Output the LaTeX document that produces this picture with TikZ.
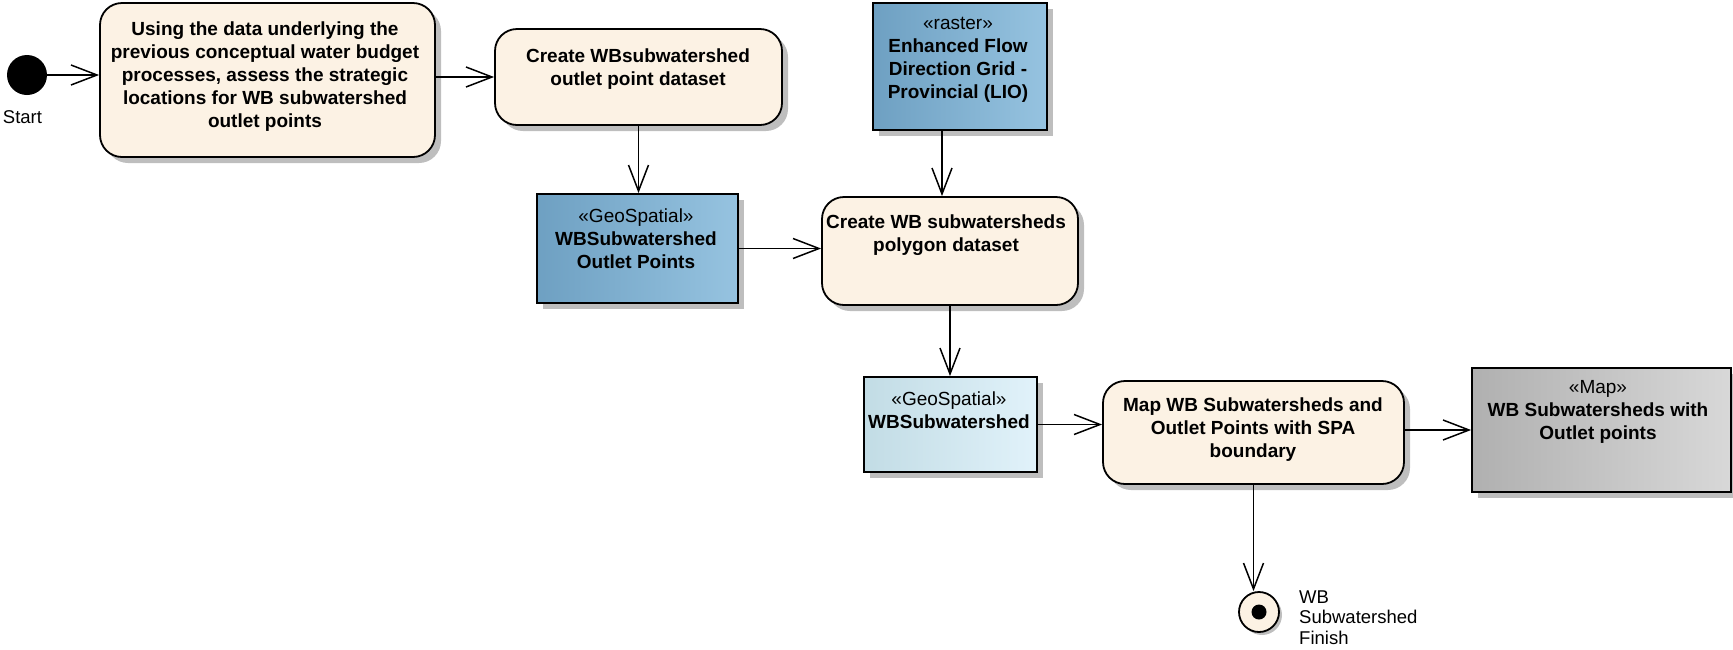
\documentclass[tikz,border=0pt]{standalone}
\usepackage{fontspec}
\setmainfont{Liberation Sans}
\usetikzlibrary{arrows.meta,shadows,calc}

\definecolor{actfill}{RGB}{252,242,228}
\definecolor{blueL}{RGB}{110,160,194}
\definecolor{blueM}{RGB}{140,187,216}
\definecolor{blueR}{RGB}{150,195,224}
\definecolor{cyanL}{RGB}{194,220,229}
\definecolor{cyanM}{RGB}{214,235,244}
\definecolor{cyanR}{RGB}{225,242,250}
\definecolor{greyL}{RGB}{176,176,176}
\definecolor{greyM}{RGB}{204,204,204}
\definecolor{greyR}{RGB}{216,216,216}
\definecolor{shadowgrey}{RGB}{190,190,190}

\tikzset{
  shadowed/.style={drop shadow={shadow xshift=6pt, shadow yshift=-6pt, opacity=1, fill=shadowgrey}},
  act/.style={draw=black, line width=1.8pt, rounded corners=22pt, fill=actfill, shadowed, inner sep=0pt},
  obj/.style={draw=black, line width=1.8pt, shadowed, inner sep=0pt},
  bluebox/.style={obj, left color=blueL, middle color=blueM, right color=blueR},
  cyanbox/.style={obj, left color=cyanL, middle color=cyanM, right color=cyanR},
  greybox/.style={obj, left color=greyL, middle color=greyM, right color=greyR},
  txt/.style={align=center, font=\fontsize{19}{23}\selectfont\bfseries, inner sep=0pt},
  lbl/.style={align=left, font=\fontsize{18.5}{20.5}\selectfont, inner sep=0pt},
  flow/.style={-{Straight Barb[length=26pt,width=20pt]}, line width=1.5pt},
}

\begin{document}
\begin{tikzpicture}[x=1pt,y=-1pt]
\useasboundingbox (0,0) rectangle (1733,649);

% initial node
\node[circle, fill=black, minimum size=40pt, inner sep=0pt] (start) at (27,75) {};
\node[lbl, align=center] (startlbl) at (22.5,117) {Start};

% activities and objects
\node[act, minimum width=335pt, minimum height=154pt] (b1) at (267.5,80) {};
\node[txt] (b1t) at (265,77) {Using the data underlying the\\previous conceptual water budget\\processes, assess the strategic\\locations for WB subwatershed\\outlet points};

\node[act, minimum width=287pt, minimum height=96pt] (b2) at (638.5,77) {};
\node[txt] (b2t) at (638,69) {Create WBsubwatershed\\outlet point dataset};

\node[bluebox, minimum width=174pt, minimum height=127pt] (raster) at (960,66.5) {};
\node[txt] (rastert) at (958,59.5) {\mdseries«raster»\\Enhanced Flow\\Direction Grid -\\Provincial (LIO)};

\node[bluebox, minimum width=201pt, minimum height=109pt] (g1) at (637.5,248.5) {};
\node[txt] (g1t) at (636,239) {\mdseries«GeoSpatial»\\WBSubwatershed\\Outlet Points};

\node[act, minimum width=256pt, minimum height=108pt] (poly) at (950,251) {};
\node[txt] (polyt) at (946,235.5) {Create WB subwatersheds\\polygon dataset};

\node[cyanbox, minimum width=173pt, minimum height=95pt] (ws) at (950.5,424.5) {};
\node[txt] (wst) at (949,410.5) {\mdseries«GeoSpatial»\\WBSubwatershed};

\node[act, minimum width=301pt, minimum height=103pt] (map) at (1253.5,432.5) {};
\node[txt] (mapt) at (1253,430) {Map WB Subwatersheds and\\Outlet Points with SPA\\boundary};

\node[greybox, minimum width=259pt, minimum height=124pt] (mo) at (1601.5,430) {};
\node[txt] (mot) at (1598,412) {\mdseries«Map»\\WB Subwatersheds with\\Outlet points};

% final node
\node[circle, draw=black, line width=1.8pt, fill=actfill, minimum size=40pt, inner sep=0pt,
      drop shadow={shadow xshift=3pt, shadow yshift=-3pt, opacity=1, fill=shadowgrey}] (fin) at (1259,612) {};
\node[circle, fill=black, minimum size=15pt, inner sep=0pt] (findot) at (fin.center) {};
\node[lbl, anchor=west] (finlbl) at (1299,617.5) {WB\\Subwatershed\\Finish};

% control / object flows
\draw[flow] (start) -- (start -| b1.west);
\draw[flow] (b1.east |- b2.west) -- (b2.west);
\draw[flow] (b2.south) -- (b2.south |- g1.north);
\coordinate (rs) at ($(raster.south)+(-18,0)$);
\draw[flow] (rs) -- (rs |- poly.north);
\draw[flow] (g1.east) -- (g1.east -| poly.west);
\draw[flow] (poly.south) -- (poly.south |- ws.north);
\draw[flow] (ws.east) -- (ws.east -| map.west);
\draw[flow] (mo.west -| map.east) -- (mo.west);
\draw[flow] (map.south) -- (map.south |- fin.north);
\end{tikzpicture}
\end{document}
